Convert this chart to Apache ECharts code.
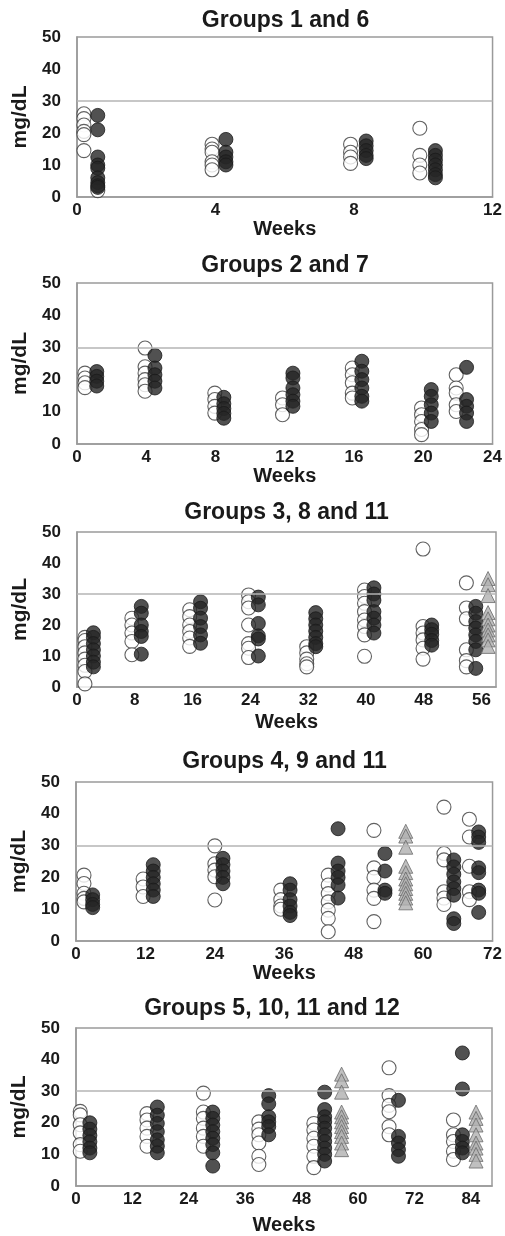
<!DOCTYPE html>
<html>
<head>
<meta charset="utf-8">
<style>
  html, body { margin: 0; padding: 0; background: #fff; }
  #chart { width: 505px; height: 1236px; }
</style>
<script src="https://cdn.jsdelivr.net/npm/echarts@6/dist/echarts.min.js"></script>
</head>
<body>
<div id="chart"></div>
<script>
// ---------- DATA ----------
const titles = ['Groups 1 and 6', 'Groups 2 and 7', 'Groups 3, 8 and 11', 'Groups 4, 9 and 11', 'Groups 5, 10, 11 and 12'];
const yAxisName = 'mg/dL';
const xAxisName = 'Weeks';
const xMaxWeeks = [12, 24, 58, 72, 88.5];
const xTickStep = [4, 4, 8, 12, 12];
const yTicks = [0, 10, 20, 30, 40, 50];
const upperLimit = 30;

// Panel 1
const p1OpenWeeks = [0.2, 0.6, 3.9, 7.9, 9.9];
const p1OpenValues = [[26, 24.5, 22.5, 20.5, 19.5, 14.5], [2], [16.5, 15, 14, 11, 10, 8.5], [16.5, 14, 12.5, 10.5], [21.5, 13, 10, 7.5]];
const p1FilledWeeks = [0.6, 4.3, 8.35, 10.35];
const p1FilledValues = [[25.5, 21, 12.5, 10, 9, 6, 4.5, 3.5, 3], [18, 14, 12.5, 11, 10], [17.5, 16, 14.5, 13, 12], [14.5, 13, 11.5, 10, 8.5, 7, 6]];
const p1TriWeeks = [];
const p1TriValues = [];

// Panel 2
const p2OpenWeeks = [0.46, 3.93, 7.96, 11.87, 15.9, 19.9, 21.9];
const p2OpenValues = [[22, 20.5, 19, 17.5], [29.8, 24, 22, 20, 18.4, 16.4], [15.8, 13.8, 11.7, 9.6], [14.3, 12.2, 9.1], [23.6, 21.5, 19, 15.8, 14.3], [11.2, 9.1, 7, 4.5, 2.9], [21.5, 17.4, 15.8, 12.2, 10.1]];
const p2FilledWeeks = [1.14, 4.5, 8.48, 12.47, 16.45, 20.46, 22.5];
const p2FilledValues = [[22.5, 21, 19.5, 18], [27.5, 23.6, 21.5, 19.5, 17.4], [14.5, 12.5, 11, 9.5, 8], [22, 20.5, 17.4, 15.3, 13.3, 11.7], [25.7, 22.6, 20, 17.4, 14.8, 13.3], [16.9, 14.8, 12.2, 9.6, 7], [23.8, 13.8, 11.7, 9.6, 7]];
const p2TriWeeks = [];
const p2TriValues = [];

// Panel 3
const p3OpenWeeks = [1.1, 7.6, 15.6, 23.75, 31.8, 39.8, 47.9, 53.9];
const p3OpenValues = [[16, 15, 13, 11, 9, 7, 5, 1], [22.2, 20, 17.4, 14.7, 10.4], [24.9, 22.7, 20, 17.9, 15.8, 13.1], [29.7, 27.5, 25.5, 20, 14, 12.5, 9.5], [13, 11, 9, 7.5, 6.5], [31.3, 29.2, 27, 24.3, 21.6, 19.5, 16.8, 9.9], [44.5, 19.5, 17.4, 15.2, 12.5, 9], [33.6, 25.5, 22, 12, 8.5, 6.5]];
const p3FilledWeeks = [2.27, 8.9, 17.1, 25.1, 33.05, 41.1, 49.1, 55.2];
const p3FilledValues = [[17.5, 16, 14, 12, 10, 8, 6.5], [26, 23.8, 20, 17.9, 16.3, 10.6], [27.5, 25.4, 22.2, 19.5, 16.8, 14.1], [29, 26.5, 20.5, 16.5, 15.5, 10], [24, 22, 20, 18, 16, 14, 13], [32, 30, 28, 24.3, 22.2, 20, 17.4], [20, 18.5, 17, 15, 13.5], [26, 23.8, 21.1, 19, 16.8, 14.7, 12, 6]];
const p3TriWeeks = [56.9];
const p3TriValues = [[35, 33, 29.5, 24, 22, 20, 18.4, 16.8, 15.2, 13.1]];

// Panel 4
const p4OpenWeeks = [1.38, 11.6, 24.0, 35.4, 43.6, 51.5, 63.6, 68.0];
const p4OpenValues = [[20.7, 18.1, 15, 13.4, 12.3], [19.5, 17, 14], [29.9, 24.3, 22.3, 20.2, 12.9], [16, 13, 11, 10], [20.7, 17.6, 14.9, 12.3, 9.7, 7.1, 2.9], [34.8, 23, 20, 16, 13.4, 6.1], [42.1, 27.5, 25.5, 15.5, 13.5, 11.5], [38.3, 32.7, 23.5, 15.5, 13]];
const p4FilledWeeks = [2.88, 13.35, 25.4, 37.0, 45.3, 53.4, 65.3, 69.6];
const p4FilledValues = [[14.5, 13, 11.5, 10.5], [24, 22, 20, 18, 16, 14], [26, 24, 22, 20, 18], [18, 16, 13, 11, 9, 8], [35.3, 24.5, 22, 20, 17.6, 13.5], [27.5, 22, 16, 15], [25.5, 23.3, 21, 18.6, 16.5, 14.4, 7, 5.5], [34.3, 32.7, 31, 23, 21.5, 16, 15, 9]];
const p4TriWeeks = [57.0];
const p4TriValues = [[34.5, 33, 29.5, 23.5, 21.5, 19.5, 18, 16.5, 15, 13.5, 12]];

// Panel 5
const p5OpenWeeks = [0.9, 15.1, 27.1, 38.9, 50.6, 66.6, 80.3];
const p5OpenValues = [[23.6, 22.5, 19.4, 16.8, 13.1, 11], [22.9, 20.9, 18.3, 15.7, 12.6], [29.4, 23.4, 21.4, 18.3, 15.7, 12.6], [20.3, 18, 16.2, 13.6, 9.4, 6.8], [19.8, 17.7, 15.1, 12.6, 9.4, 5.8], [37.4, 28.6, 25.5, 23.5, 18.8, 16.2], [20.9, 16.2, 14.1, 11, 8.4]];
const p5FilledWeeks = [2.95, 17.3, 29.1, 41.0, 52.9, 68.6, 82.2];
const p5FilledValues = [[20, 18, 16, 14, 12, 10.5], [25, 22.4, 19.8, 17.2, 14.6, 12.6, 10.5], [23.4, 21.4, 19.3, 17.2, 15.1, 13.1, 10.5, 6.3], [28.6, 26, 21.9, 20.3, 18.8, 16.2], [29.7, 24.2, 21.9, 20.3, 18.3, 16.2, 14.1, 12, 10, 7.9], [27.1, 15.7, 13.6, 11.5, 9.4], [42.1, 30.7, 16.2, 14.1, 12, 10.5]];
const p5TriWeeks = [56.5, 85.1];
const p5TriValues = [[35.4, 33.3, 29.7, 23.4, 21.9, 20.3, 18.8, 17.2, 15.7, 13.6, 11.5], [23.4, 21.4, 19.3, 16.2, 13.6, 12, 10, 7.9]];

// ---------- BUILD ----------
const panelData = [
  [p1OpenWeeks, p1OpenValues, p1FilledWeeks, p1FilledValues, p1TriWeeks, p1TriValues],
  [p2OpenWeeks, p2OpenValues, p2FilledWeeks, p2FilledValues, p2TriWeeks, p2TriValues],
  [p3OpenWeeks, p3OpenValues, p3FilledWeeks, p3FilledValues, p3TriWeeks, p3TriValues],
  [p4OpenWeeks, p4OpenValues, p4FilledWeeks, p4FilledValues, p4TriWeeks, p4TriValues],
  [p5OpenWeeks, p5OpenValues, p5FilledWeeks, p5FilledValues, p5TriWeeks, p5TriValues]
];

function points(weeks, values) {
  const out = [];
  weeks.forEach((w, i) => values[i].forEach(v => out.push([w, v])));
  return out;
}

// layout (pixels)
const gridBoxes = [
  { left: 77, top: 37, width: 417, height: 160 },
  { left: 77, top: 283, width: 416, height: 161 },
  { left: 77, top: 532, width: 419, height: 155 },
  { left: 76, top: 782, width: 417, height: 159 },
  { left: 76, top: 1028, width: 416, height: 161 }
];
const titleTops = [9, 254, 501, 750, 997];
const xNameGaps = [16, 17, 25, 21, 29];

const FONT = '"Liberation Sans", Arial, Helvetica, sans-serif';
const axisGrey = '#9a9a9a';

const option = {
  animation: false,
  backgroundColor: '#fff',
  title: [], grid: [], xAxis: [], yAxis: [], series: []
};

gridBoxes.forEach((g, i) => {
  option.title.push({
    text: titles[i],
    left: g.left + g.width / 2 - (i === 4 ? 12 : 0),
    top: titleTops[i],
    textAlign: 'center',
    padding: 0,
    textStyle: { fontFamily: FONT, fontWeight: 'bold', fontSize: 23, color: '#1a1a1a' }
  });
  option.grid.push({
    left: g.left, top: g.top, width: g.width, height: g.height,
    show: true, borderColor: axisGrey, borderWidth: 1.5, backgroundColor: '#fff'
  });
  option.xAxis.push({
    type: 'value', gridIndex: i, min: 0, max: xMaxWeeks[i], interval: xTickStep[i],
    name: xAxisName, nameLocation: 'middle', nameGap: xNameGaps[i],
    nameTextStyle: { fontFamily: FONT, fontWeight: 'bold', fontSize: 20, color: '#1a1a1a' },
    axisLine: { show: true, lineStyle: { color: axisGrey, width: 1.5 } },
    axisTick: { show: false },
    splitLine: { show: false },
    axisLabel: { showMaxLabel: xMaxWeeks[i] % xTickStep[i] === 0, margin: 5, fontFamily: FONT, fontWeight: 'bold', fontSize: 17, color: '#1a1a1a' }
  });
  option.yAxis.push({
    type: 'value', gridIndex: i, min: yTicks[0], max: yTicks[yTicks.length - 1], interval: yTicks[1] - yTicks[0],
    name: yAxisName, nameLocation: 'middle', nameGap: 44,
    nameTextStyle: { fontFamily: FONT, fontWeight: 'bold', fontSize: 21, color: '#1a1a1a' },
    axisLine: { show: true, lineStyle: { color: axisGrey, width: 1.5 } },
    axisTick: { show: false },
    splitLine: { show: false },
    axisLabel: { margin: 16, fontFamily: FONT, fontWeight: 'bold', fontSize: 17, color: '#1a1a1a' }
  });

  const [ow, ov, fw, fv, tw, tv] = panelData[i];
  option.series.push({
    type: 'scatter', xAxisIndex: i, yAxisIndex: i,
    data: points(ow, ov), symbol: 'circle', symbolSize: 14,
    itemStyle: { color: '#fff', borderColor: '#3a3a3a', borderWidth: 1.1 },
    markLine: {
      silent: true, symbol: 'none', label: { show: false },
      lineStyle: { color: '#b4b4b4', width: 1.5, type: 'solid' },
      data: [{ yAxis: upperLimit }]
    }
  });
  option.series.push({
    type: 'scatter', xAxisIndex: i, yAxisIndex: i,
    data: points(fw, fv), symbol: 'circle', symbolSize: 14,
    itemStyle: { color: '#262626', borderColor: '#1a1a1a', borderWidth: 1 }
  });
  if (tw.length) {
    option.series.push({
      type: 'scatter', xAxisIndex: i, yAxisIndex: i,
      data: points(tw, tv), symbol: 'triangle', symbolSize: 14,
      itemStyle: { color: '#b0b0b0', borderColor: '#6a6a6a', borderWidth: 1 }
    });
  }
});

const chart = echarts.init(document.getElementById('chart'), null, { renderer: 'canvas' });
chart.setOption(option);
</script>
</body>
</html>
